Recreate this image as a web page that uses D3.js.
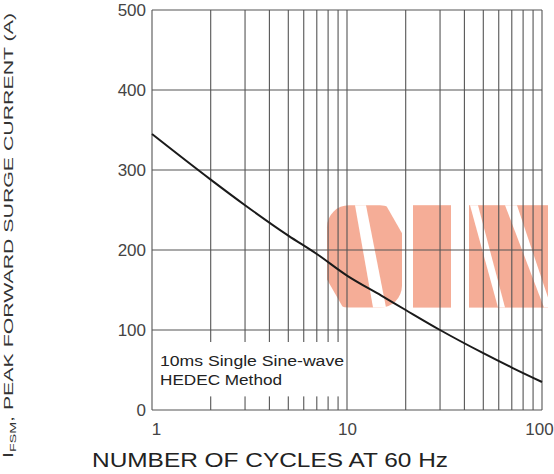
<!DOCTYPE html>
<html>
<head>
<meta charset="utf-8">
<script src="https://cdn.jsdelivr.net/npm/d3@7"></script>
<style>
  body { margin: 0; background: #fff; }
  text { font-family: "Liberation Sans", Arial, sans-serif; }
</style>
</head>
<body>
<svg id="chart" width="554" height="474"></svg>
<script>
// surge curve
const cycles = [1, 2, 3, 5, 7, 10, 15, 20, 30, 50, 70, 100];
const surgeAmps = [345, 288, 256, 218, 195, 168, 143, 125, 100, 71, 53, 35];

const xMajor = [1, 10, 100];
const xGrid = [1, 2, 3, 4, 5, 6, 7, 8, 9, 10, 20, 30, 40, 50, 60, 70, 80, 90, 100];
const yTicks = [0, 100, 200, 300, 400, 500];
const noteLines = ['10ms Single Sine-wave', 'HEDEC Method'];

const svg = d3.select('#chart'),
    margin = {top: 10, right: 12, bottom: 64, left: 152},
    width = 554 - margin.left - margin.right,
    height = 474 - margin.top - margin.bottom;

const x = d3.scaleLog().domain([1, 100]).range([0, width]);
const y = d3.scaleLinear().domain([0, 500]).range([height, 0]);

const g = svg.append('g').attr('transform', `translate(${margin.left},${margin.top})`);

// watermark "SIN" behind the grid
const wm = g.append('g').attr('fill', '#f5ad97');
const wTop = y(256), wBot = y(128);
wm.append('rect').attr('x', 175).attr('y', wTop).attr('width', 75).attr('height', wBot - wTop)
  .attr('rx', 22);
wm.append('rect').attr('x', 261).attr('y', wTop).attr('width', 38).attr('height', wBot - wTop);
wm.append('rect').attr('x', 317).attr('y', wTop).attr('width', 79).attr('height', wBot - wTop);
const cut = g.append('g').attr('fill', '#fff');
cut.append('polygon').attr('points', `203,${wTop} 214,${wTop} 234,${wBot} 221,${wBot}`);
cut.append('polygon').attr('points', `250,${wTop} 250,${wTop + 28} 234,${wTop}`);
cut.append('polygon').attr('points', `175,${wBot} 175,${wBot - 28} 191,${wBot}`);
cut.append('polygon').attr('points', `318,${wTop} 326,${wTop} 353,${wBot} 346,${wBot}`);
cut.append('polygon').attr('points', `353,${wTop} 365,${wTop} 396,${wBot - 10} 396,${wBot} 392,${wBot}`);

// grid
g.append('g').selectAll('line.v').data(xGrid).join('line')
  .attr('x1', d => x(d)).attr('x2', d => x(d))
  .attr('y1', 0).attr('y2', height)
  .attr('stroke', '#555').attr('stroke-width', 1.1);

g.append('g').selectAll('line.h').data(yTicks).join('line')
  .attr('x1', 0).attr('x2', width)
  .attr('y1', d => y(d)).attr('y2', d => y(d))
  .attr('stroke', '#555').attr('stroke-width', 1.1);

// note box hides minor grid lines
g.append('rect')
  .attr('x', 1).attr('y', y(85)).attr('width', x(9.6) - 1).attr('height', y(17) - y(85))
  .attr('fill', '#fff');
g.append('g').selectAll('text').data(noteLines).join('text')
  .attr('x', 8).attr('y', (d, i) => y(58) + 2 + i * 19)
  .attr('font-size', 15.5).attr('fill', '#222')
  .attr('textLength', (d, i) => i ? 122 : 184).attr('lengthAdjust', 'spacingAndGlyphs')
  .text(d => d);

// curve
const line = d3.line()
  .x(d => x(d[0]))
  .y(d => y(d[1]))
  .curve(d3.curveMonotoneX);

g.append('path')
  .datum(cycles.map((c, i) => [c, surgeAmps[i]]))
  .attr('fill', 'none')
  .attr('stroke', '#1a1a1a')
  .attr('stroke-width', 2)
  .attr('d', line);

// axes
const yAxis = g.append('g')
  .call(d3.axisLeft(y).tickValues(yTicks).tickSize(0).tickPadding(6));
yAxis.select('.domain').remove();
yAxis.selectAll('text').attr('font-size', 17).attr('fill', '#444')
  .style('font-family', '"Liberation Sans", Arial, sans-serif');

const xAxis = g.append('g')
  .attr('transform', `translate(0,${height})`)
  .call(d3.axisBottom(x).tickValues(xMajor).tickFormat(d3.format('d')).tickSize(0).tickPadding(13));
xAxis.select('.domain').remove();
xAxis.selectAll('text').attr('font-size', 17).attr('fill', '#444')
  .style('font-family', '"Liberation Sans", Arial, sans-serif');
xAxis.selectAll('.tick').filter(d => d === 1).select('text').attr('dx', 4);
xAxis.selectAll('.tick').filter(d => d === 100).select('text').attr('dx', -3);

// titles
svg.append('text')
  .attr('x', 92).attr('y', 467)
  .attr('font-size', 21).attr('fill', '#222')
  .attr('textLength', 356).attr('lengthAdjust', 'spacingAndGlyphs')
  .text('NUMBER OF CYCLES AT 60 Hz');

const yt = svg.append('text')
  .attr('transform', 'translate(13,458) rotate(-90)')
  .attr('font-size', 13.5).attr('fill', '#333')
  .attr('textLength', 445).attr('lengthAdjust', 'spacingAndGlyphs');
yt.append('tspan').attr('font-size', 14).text('I');
yt.append('tspan').attr('font-size', 9).attr('dy', 2.5).text('FSM');
yt.append('tspan').attr('dy', -2.5).text(', PEAK FORWARD SURGE CURRENT (A)');
</script>
</body>
</html>
